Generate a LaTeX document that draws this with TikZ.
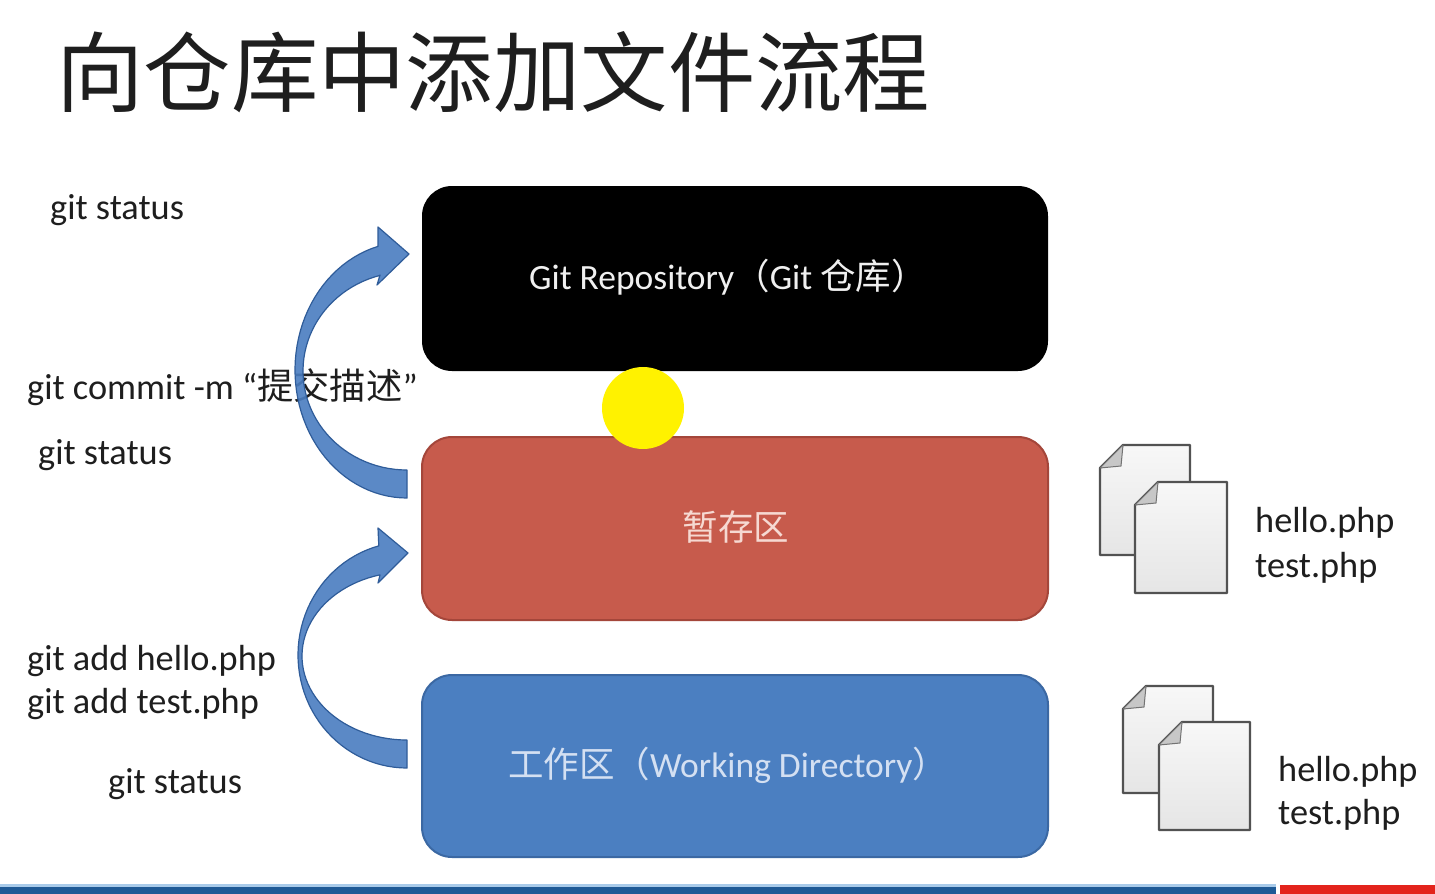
\documentclass[tikz,border=0pt]{standalone}
\usepackage{fontspec}
\setmainfont{Carlito}
\newfontfamily\cjk{Noto Sans CJK SC}
\definecolor{txtdark}{HTML}{1E1E1E}
\definecolor{redfill}{HTML}{C75B4C}
\definecolor{redline}{HTML}{A4463A}
\definecolor{bluefill}{HTML}{4B7FC1}
\definecolor{blueline}{HTML}{3B68A3}
\definecolor{arrowfill}{HTML}{4A7DC0}
\definecolor{arrowline}{HTML}{2F5C99}
\definecolor{redtxt}{HTML}{F6D9D2}
\definecolor{bluetxt}{HTML}{D4E0F2}
\definecolor{barblue}{HTML}{1F5A96}
\definecolor{barlight}{HTML}{A9CBEA}
\definecolor{barred}{HTML}{E3231C}
\definecolor{hilite}{HTML}{FFF200}
\begin{document}
\begin{tikzpicture}[x=1pt,y=-1pt,
  box/.style={rounded corners=30pt, minimum width=626pt, inner sep=0pt},
  boxtext/.style={anchor=base, inner sep=0pt, font=\fontsize{35.5}{40}\selectfont},
  cmd/.style={anchor=base west, inner sep=0pt, text=txtdark, font=\fontsize{36.3}{40}\selectfont},
  curvedarrow/.style={fill=arrowfill, fill opacity=0.9, draw=arrowline, line width=1.2pt, line join=round},
  page/.style={top color=black!3, bottom color=black!10, draw=black!68, line width=2.4pt, line join=round},
  fold/.style={fill=black!22, draw=black!55, line width=1pt, line join=round}
]
\useasboundingbox (0,0) rectangle (1435,894);
\fill[white] (0,0) rectangle (1435,894);

% title
\node[anchor=base west, inner sep=0pt, text=txtdark, font=\cjk\fontsize{87.4}{100}\selectfont] (title) at (56,105) {向仓库中添加文件流程};

% stage boxes
\node[box, fill=black, minimum height=185pt] (repo) at (735,278.5) {};
\node[box, fill=redfill, draw=redline, line width=2pt, minimum height=183pt] (stage) at (735,528.5) {};
\node[box, fill=bluefill, draw=blueline, line width=2pt, minimum height=182pt] (work) at (735,766) {};

\node[boxtext, text=white!94!black] (repolbl) at (728,289) {Git Repository{\cjk （}Git {\cjk 仓库）}};
\node[boxtext, text=redtxt] (stagelbl) at (736,540) {\cjk 暂存区};
\node[boxtext, text=bluetxt] (worklbl) at (728,777) {{\cjk 工作区（}Working Directory{\cjk ）}};

% highlight circle
\fill[hilite] (643,408) circle[radius=41pt];

% commands
\node[cmd] (st1) at (50,219) {git status};
\node[cmd] (commit) at (27,399) {git commit -m “{\cjk 提交描述}”};
\node[cmd] (st2) at (38,464) {git status};
\node[cmd] (add1) at (27,670) {git add hello.php};
\node[cmd] (add2) at (27,713) {git add test.php};
\node[cmd] (st3) at (108,793) {git status};

% curved arrows
\path[curvedarrow] (407,498)
  -- plot[domain=90:255, samples=50] ({407+112*cos(\x)},{370+128*sin(\x)})
  -- (378,227) -- (409,254) -- (377,285) -- (380,275)
  -- plot[domain=255:90, samples=50] ({407+104*cos(\x)},{371+99*sin(\x)})
  -- cycle;
\path[curvedarrow] (407,768)
  -- plot[domain=90:255, samples=50] ({407+109*cos(\x)},{655+113*sin(\x)})
  -- (378,528) -- (408,553) -- (378,583) -- (380,575)
  -- plot[domain=255:90, samples=50] ({407+105*cos(\x)},{656+84*sin(\x)})
  -- cycle;

% file icons (staged)
\path[page] (1100,468) -- (1123,445) -- (1190,445) -- (1190,555) -- (1100,555) -- cycle;
\path[fold] (1100,468) -- (1123,445) -- (1121,466) -- cycle;
\path[page] (1135,505) -- (1158,482) -- (1227,482) -- (1227,593) -- (1135,593) -- cycle;
\path[fold] (1135,505) -- (1158,482) -- (1156,503) -- cycle;
\node[cmd] (f1) at (1255,532) {hello.php};
\node[cmd] (f2) at (1255,577) {test.php};

% file icons (working)
\path[page] (1123,709) -- (1146,686) -- (1213,686) -- (1213,793) -- (1123,793) -- cycle;
\path[fold] (1123,709) -- (1146,686) -- (1144,707) -- cycle;
\path[page] (1159,745) -- (1182,722) -- (1250,722) -- (1250,830) -- (1159,830) -- cycle;
\path[fold] (1159,745) -- (1182,722) -- (1180,743) -- cycle;
\node[cmd] (f3) at (1278,781) {hello.php};
\node[cmd] (f4) at (1278,824) {test.php};

% bottom bar
\fill[barlight] (0,884) rectangle (1276,887);
\fill[barblue] (0,887) rectangle (1276,894);
\fill[barred] (1280,885) rectangle (1435,894);
\end{tikzpicture}
\end{document}
